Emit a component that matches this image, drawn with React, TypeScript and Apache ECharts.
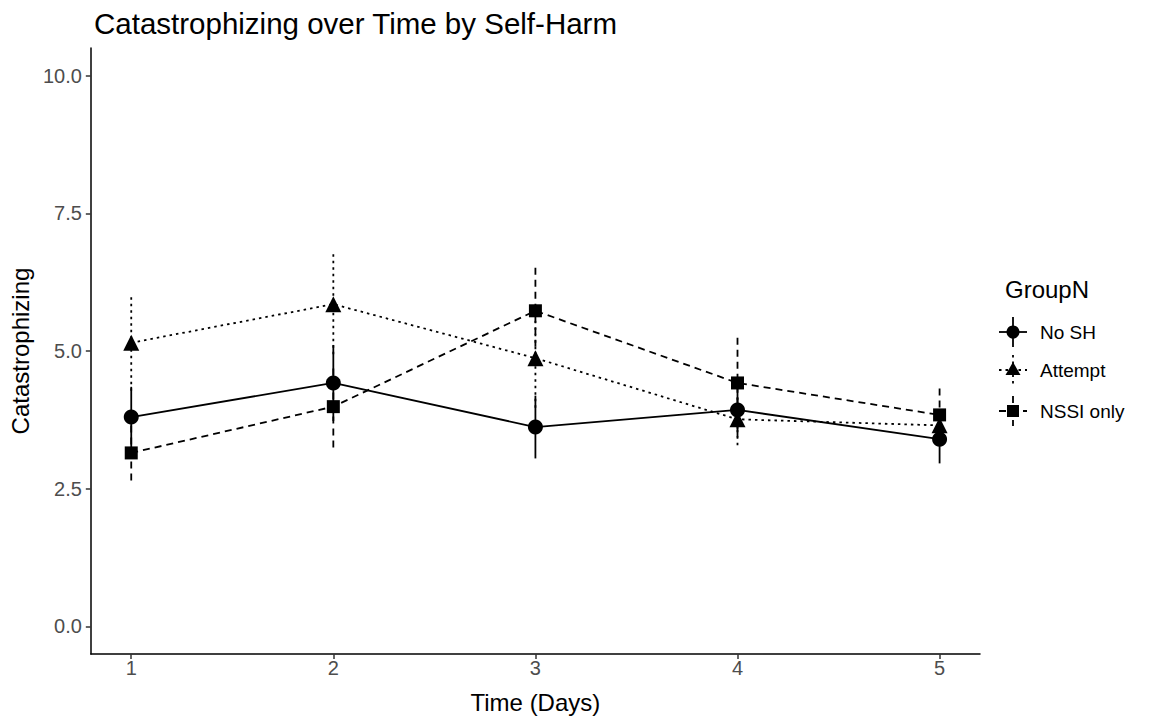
import React, { useEffect, useRef } from "react";
import * as echarts from "echarts";

const days = [1, 2, 3, 4, 5];
const yTicks = [0, 2.5, 5, 7.5, 10];
const groups = ["No SH", "Attempt", "NSSI only"];

const noShMean = [3.8, 4.42, 3.62, 3.93, 3.4];
const noShLow = [3.25, 3.73, 3.05, 3.43, 2.96];
const noShHigh = [4.35, 5.11, 4.19, 4.43, 3.86];

const attemptMean = [5.15, 5.85, 4.87, 3.76, 3.65];
const attemptLow = [4.28, 4.94, 3.97, 3.29, 3.3];
const attemptHigh = [6.02, 6.76, 5.77, 4.23, 4.0];

const nssiMean = [3.15, 3.99, 5.73, 4.42, 3.84];
const nssiLow = [2.65, 3.25, 4.86, 3.59, 3.32];
const nssiHigh = [3.65, 4.73, 6.6, 5.25, 4.36];

const FONT = "Liberation Sans, Arial, sans-serif";
const LW = 1.8;
const dashes: (number[] | null)[] = [null, [2.5, 4], [7, 5]];
const symbols = ["circle", "triangle", "rect"];
const symbolSizes = [15, 16, 13];

export default function App() {
  const ref = useRef<HTMLDivElement>(null);
  useEffect(() => {
    if (!ref.current) return;
    const chart = echarts.init(ref.current, undefined, { renderer: "svg" });
    const means = [noShMean, attemptMean, nssiMean];
    const lows = [noShLow, attemptLow, nssiLow];
    const highs = [noShHigh, attemptHigh, nssiHigh];

    const errSeries = groups.map((g, gi) => ({
      type: "custom",
      name: g + " err",
      silent: true,
      z: 2,
      data: days.map((d, i) => [d, lows[gi][i], highs[gi][i]]),
      renderItem: (params: any, api: any) => {
        const p1 = api.coord([api.value(0), api.value(1)]);
        const p2 = api.coord([api.value(0), api.value(2)]);
        return {
          type: "line",
          shape: { x1: p1[0], y1: p1[1], x2: p2[0], y2: p2[1] },
          style: {
            stroke: "#000",
            lineWidth: LW,
            lineDash: dashes[gi] || undefined,
          },
        };
      },
    }));

    const lineSeries = groups.map((g, gi) => ({
      type: "line",
      name: g,
      z: 3,
      data: days.map((d, i) => [d, means[gi][i]]),
      symbol: symbols[gi],
      symbolSize: symbolSizes[gi],
      showSymbol: true,
      itemStyle: { color: "#000" },
      lineStyle: {
        color: "#000",
        width: LW,
        type: dashes[gi] ? dashes[gi] : "solid",
      },
    }));

    // legend graphics
    const legendY = [332, 370, 411];
    const kx = 1013;
    const legendEls: any[] = [
      {
        type: "text",
        x: 1005,
        y: 289,
        style: {
          text: "GroupN",
          font: `24px ${FONT}`,
          fill: "#000",
          verticalAlign: "middle",
        },
      },
    ];
    groups.forEach((g, gi) => {
      const y = legendY[gi];
      const dash = dashes[gi] || undefined;
      legendEls.push({
        type: "line",
        shape: { x1: kx - 14, y1: y, x2: kx + 14, y2: y },
        style: { stroke: "#000", lineWidth: LW, lineDash: dash },
      });
      legendEls.push({
        type: "line",
        shape: { x1: kx, y1: y - 15, x2: kx, y2: y + 15 },
        style: { stroke: "#000", lineWidth: LW, lineDash: dash },
      });
      if (gi === 0) {
        legendEls.push({ type: "circle", shape: { cx: kx, cy: y, r: 6.5 }, style: { fill: "#000" } });
      } else if (gi === 1) {
        legendEls.push({
          type: "polygon",
          shape: { points: [[kx, y - 8], [kx + 7.5, y + 5], [kx - 7.5, y + 5]] },
          style: { fill: "#000" },
        });
      } else {
        legendEls.push({ type: "rect", shape: { x: kx - 6, y: y - 6, width: 12, height: 12 }, style: { fill: "#000" } });
      }
      legendEls.push({
        type: "text",
        x: 1040,
        y: y,
        style: { text: g, font: `19px ${FONT}`, fill: "#000", verticalAlign: "middle" },
      });
    });

    chart.setOption({
      animation: false,
      backgroundColor: "#fff",
      title: {
        text: "Catastrophizing over Time by Self-Harm",
        left: 89,
        top: 3,
        textStyle: { fontFamily: FONT, fontSize: 29.5, fontWeight: "normal", color: "#000" },
      },
      grid: { left: 90, right: 190, top: 48, bottom: 68 },
      xAxis: {
        type: "value",
        min: 0.8,
        max: 5.2,
        name: "Time (Days)",
        nameLocation: "middle",
        nameGap: 36,
        nameTextStyle: { fontFamily: FONT, fontSize: 24, color: "#000" },
        splitLine: { show: false },
        axisLine: { show: true, onZero: false, lineStyle: { color: "#000", width: 1.5 } },
        axisTick: { show: true, customValues: days, length: 5, lineStyle: { color: "#333", width: 1.5 } },
        axisLabel: {
          customValues: days,
          fontFamily: FONT,
          fontSize: 20,
          color: "#4d4d4d",
          margin: 4,
        },
      },
      yAxis: {
        type: "value",
        min: -0.5,
        max: 10.5,
        name: "Catastrophizing",
        nameLocation: "middle",
        nameGap: 55,
        nameTextStyle: { fontFamily: FONT, fontSize: 24, color: "#000" },
        splitLine: { show: false },
        axisLine: { show: true, onZero: false, lineStyle: { color: "#000", width: 1.5 } },
        axisTick: { show: true, customValues: yTicks, length: 5, lineStyle: { color: "#333", width: 1.5 } },
        axisLabel: {
          customValues: yTicks,
          formatter: (v: number) => v.toFixed(1),
          fontFamily: FONT,
          fontSize: 20,
          color: "#4d4d4d",
          margin: 9,
        },
      },
      graphic: legendEls,
      series: [...errSeries, ...lineSeries],
    });
    return () => chart.dispose();
  }, []);
  return (
    <div
      ref={ref}
      style={{ position: "fixed", left: 0, top: 0, width: 1170, height: 722 }}
    />
  );
}
